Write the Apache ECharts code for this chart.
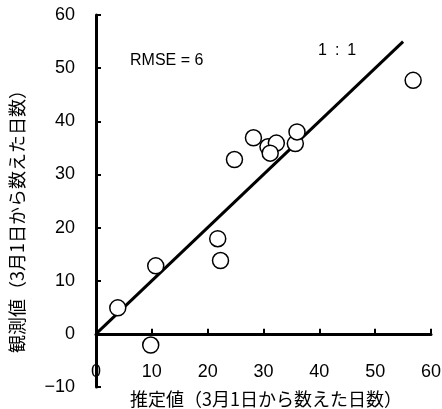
<!DOCTYPE html>
<html><head><meta charset="utf-8">
<script src="https://cdn.jsdelivr.net/npm/echarts@6/dist/echarts.min.js"></script>
<style>html,body{margin:0;padding:0;background:#fff}#c{width:442px;height:409px}</style>
</head><body><div id="c"></div>
<script>
// Data
const estimated = [3.9, 10.7, 9.8, 21.8, 22.3, 24.8, 28.2, 30.8, 32.3, 31.2, 35.7, 36.0, 56.8];
const observed  = [4.9, 12.8, -2.1, 17.9, 13.8, 32.8, 36.9, 35.2, 35.9, 34.0, 35.8, 38.0, 47.7];
const oneToOne  = [[0, 0], [55, 55]];
const xTicks = [0, 10, 20, 30, 40, 50, 60];
const yTicks = [-10, 0, 10, 20, 30, 40, 50, 60];
const xTitle = '推定値（3月1日から数えた日数）';
const yTitle = '観測値（3月1日から数えた日数）';
const rmseText = 'RMSE = 6';
const ratioText = '1\u2002:\u20021';

const latin = '"Liberation Sans", Arial, sans-serif';
const cjk = '"Noto Sans CJK JP", sans-serif';
const chart = echarts.init(document.getElementById('c'), null, {renderer: 'canvas'});
chart.setOption({
  animation: false,
  grid: {left: 96, top: 15, width: 335, height: 372, containLabel: false, outerBoundsMode: 'none'},
  xAxis: {
    type: 'value', min: xTicks[0], max: xTicks[xTicks.length - 1], interval: 10,
    axisLine: {onZero: true, lineStyle: {color: '#000', width: 3}},
    axisTick: {inside: true, length: 5, lineStyle: {color: '#000', width: 2}},
    axisLabel: {margin: -24, color: '#000', fontSize: 18, fontFamily: latin},
    splitLine: {show: false}
  },
  yAxis: {
    type: 'value', min: yTicks[0], max: yTicks[yTicks.length - 1], interval: 10,
    axisLine: {onZero: false, lineStyle: {color: '#000', width: 3}},
    axisTick: {inside: true, length: 5, lineStyle: {color: '#000', width: 2}},
    axisLabel: {margin: 21, color: '#000', fontSize: 18, fontFamily: latin,
      formatter: v => (v < 0 ? '\u2212' + Math.abs(v) : String(v))},
    splitLine: {show: false}
  },
  graphic: [
    {type: 'text', left: 130, top: 53, style: {text: rmseText, font: '16px ' + latin, fill: '#000'}},
    {type: 'text', left: 318, top: 43, style: {text: ratioText, font: '16px ' + latin, fill: '#000'}},
    {type: 'text', x: 266, y: 399, style: {text: xTitle, font: '18px ' + cjk, fill: '#000', align: 'center', verticalAlign: 'middle'}},
    {type: 'text', x: 17, y: 217, rotation: Math.PI / 2, style: {text: yTitle, font: '18px ' + cjk, fill: '#000', align: 'center', verticalAlign: 'middle'}}
  ],
  series: [
    {type: 'line', data: oneToOne, symbol: 'none', lineStyle: {color: '#000', width: 3}, z: 2},
    {type: 'scatter', data: estimated.map((x, i) => [x, observed[i]]), symbol: 'circle', symbolSize: 16,
      itemStyle: {color: '#fff', borderColor: '#000', borderWidth: 1.5, opacity: 1}, z: 3}
  ]
});
</script></body></html>
